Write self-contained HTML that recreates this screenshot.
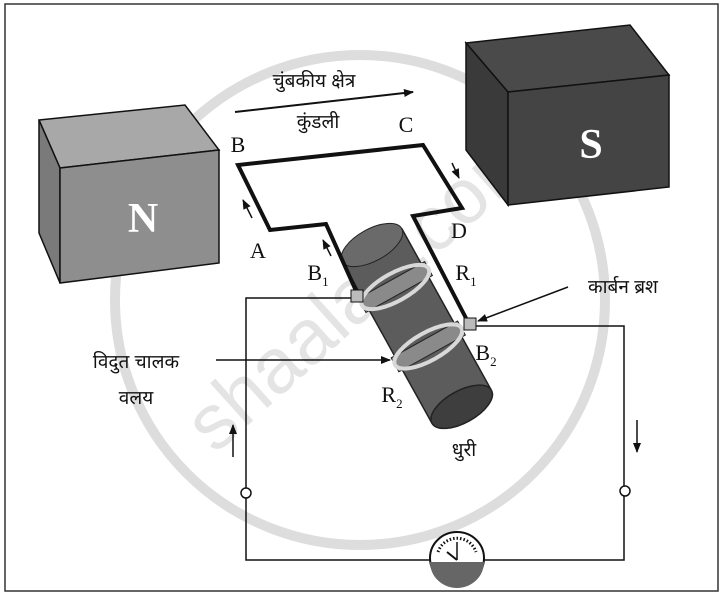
<!DOCTYPE html>
<html><head><meta charset="utf-8"><style>
html,body{margin:0;padding:0;background:#fff;}
svg{display:block;}
text{font-family:"Liberation Serif","Noto Serif CJK SC","Noto Sans CJK SC",serif;fill:#111;}
.dv{font-family:"Liberation Sans","Noto Sans CJK SC","WenQuanYi Zen Hei",sans-serif;font-size:19px;}
</style></head><body>
<svg width="724" height="597" viewBox="0 0 724 597" xmlns="http://www.w3.org/2000/svg">
<defs>
<marker id="ah" markerWidth="10" markerHeight="8" refX="9" refY="4" orient="auto" markerUnits="userSpaceOnUse"><path d="M0,0 L10,4 L0,8 z" fill="#111"/></marker>
</defs>
<rect x="5" y="4" width="713" height="587" fill="none" stroke="#333" stroke-width="1.5"/>
<ellipse cx="360" cy="300" rx="245" ry="245" fill="none" stroke="#ddd" stroke-width="10"/>
<text x="215" y="455" transform="rotate(-42 215 455)" style="font-family:'Liberation Sans',sans-serif;font-size:78px;fill:#e4e4e4;">shaalaa.com</text>

<!-- N magnet -->
<polygon points="39,120 185,105 219,150 60,168" fill="#a8a8a8" stroke="#111" stroke-width="1.5"/>
<polygon points="39,120 60,168 60,283 39,233" fill="#7a7a7a" stroke="#111" stroke-width="1.5"/>
<polygon points="60,168 219,150 219,263 60,283" fill="#8e8e8e" stroke="#111" stroke-width="1.5"/>
<text x="143" y="232" text-anchor="middle" style="font-size:42px;font-weight:bold;fill:#fff">N</text>
<!-- S magnet -->
<polygon points="466,43 630,25 669,75 508,92" fill="#4a4a4a" stroke="#111" stroke-width="1.5"/>
<polygon points="466,43 508,92 508,205 466,150" fill="#3a3a3a" stroke="#111" stroke-width="1.5"/>
<polygon points="508,92 669,75 669,187 508,205" fill="#444" stroke="#111" stroke-width="1.5"/>
<text x="591" y="158" text-anchor="middle" style="font-size:42px;font-weight:bold;fill:#fff">S</text>

<!-- field arrow -->
<line x1="235" y1="112" x2="413" y2="92" stroke="#111" stroke-width="2" marker-end="url(#ah)"/>
<text class="dv" x="314" y="87" text-anchor="middle">चुंबकीय क्षेत्र</text>
<text class="dv" x="318" y="128" text-anchor="middle">कुंडली</text>
<text x="406" y="132" text-anchor="middle" font-size="22">C</text>
<text x="238" y="152" text-anchor="middle" font-size="22">B</text>
<text x="258" y="258" text-anchor="middle" font-size="22">A</text>
<text x="459" y="238" text-anchor="middle" font-size="22">D</text>
<text x="318" y="280" text-anchor="middle" font-size="22">B<tspan font-size="13" dy="6">1</tspan></text>
<text x="466" y="280" text-anchor="middle" font-size="22">R<tspan font-size="13" dy="6">1</tspan></text>

<!-- circuit -->
<polyline points="357,298 246,298 246,560 624,560 624,326 475,326" fill="none" stroke="#111" stroke-width="1.5"/>
<circle cx="246" cy="493" r="5" fill="#fff" stroke="#111" stroke-width="1.5"/>
<circle cx="625" cy="491" r="5" fill="#fff" stroke="#111" stroke-width="1.5"/>
<line x1="233" y1="457" x2="233" y2="425" stroke="#111" stroke-width="1.5" marker-end="url(#ah)"/>
<line x1="637" y1="420" x2="637" y2="452" stroke="#111" stroke-width="1.5" marker-end="url(#ah)"/>

<!-- cylinder -->
<g transform="translate(372,245) rotate(61)">
<rect x="0" y="-34" width="185" height="68" fill="#5c5c5c"/>
<ellipse cx="0" cy="0" rx="16" ry="34" fill="#6a6a6a" stroke="#222"/>
<line x1="0" y1="-34" x2="185" y2="-34" stroke="#222" stroke-width="1.5"/>
<line x1="0" y1="34" x2="185" y2="34" stroke="#222" stroke-width="1.5"/>
<rect x="40" y="-38" width="16" height="76" fill="#8a8a8a" stroke="#222"/>
<ellipse cx="48" cy="0" rx="14" ry="38" fill="none" stroke="#d8d8d8" stroke-width="4"/>
<rect x="108" y="-38" width="16" height="76" fill="#8a8a8a" stroke="#222"/>
<ellipse cx="116" cy="0" rx="14" ry="38" fill="none" stroke="#d8d8d8" stroke-width="4"/>
<ellipse cx="185" cy="0" rx="16" ry="34" fill="#3e3e3e" stroke="#222" stroke-width="1.5"/>
</g>

<!-- coil -->
<polyline points="357,293 326,224 270,230 238,165 423,145 462,208 413,216 468,322" fill="none" stroke="#111" stroke-width="4" stroke-linejoin="miter"/>
<rect x="351" y="290" width="12" height="12" fill="#bbb" stroke="#111"/>
<rect x="464" y="318" width="12" height="12" fill="#bbb" stroke="#111"/>
<line x1="252" y1="218" x2="243" y2="200" stroke="#111" stroke-width="1.5" marker-end="url(#ah)"/>
<line x1="331" y1="256" x2="323" y2="240" stroke="#111" stroke-width="1.5" marker-end="url(#ah)"/>
<line x1="452" y1="163" x2="459" y2="178" stroke="#111" stroke-width="1.5" marker-end="url(#ah)"/>

<text class="dv" x="623" y="293" text-anchor="middle">कार्बन ब्रश</text>
<line x1="568" y1="287" x2="478" y2="321" stroke="#111" stroke-width="1.5" marker-end="url(#ah)"/>
<text class="dv" x="136" y="368" text-anchor="middle">विदुत चालक</text>
<text class="dv" x="136" y="404" text-anchor="middle">वलय</text>
<line x1="216" y1="360" x2="390" y2="360" stroke="#111" stroke-width="1.5" marker-end="url(#ah)"/>
<text x="392" y="402" text-anchor="middle" font-size="22">R<tspan font-size="13" dy="6">2</tspan></text>
<text x="486" y="360" text-anchor="middle" font-size="22">B<tspan font-size="13" dy="6">2</tspan></text>
<text class="dv" x="464" y="456" text-anchor="middle">धुरी</text>

<!-- meter -->
<ellipse cx="457" cy="558" rx="27" ry="26" fill="#fff" stroke="#111" stroke-width="2"/>
<path d="M430,562 L484,562 A27,26 0 0 1 430,562 z" fill="#666"/>
<path d="M438,552 A20,20 0 0 1 476,552" fill="none" stroke="#111" stroke-width="3" stroke-dasharray="1.5 2"/>
<line x1="457" y1="560" x2="457" y2="542" stroke="#111" stroke-width="1.5"/>
<line x1="457" y1="560" x2="447" y2="552" stroke="#111" stroke-width="2"/>
</svg>
</body></html>
